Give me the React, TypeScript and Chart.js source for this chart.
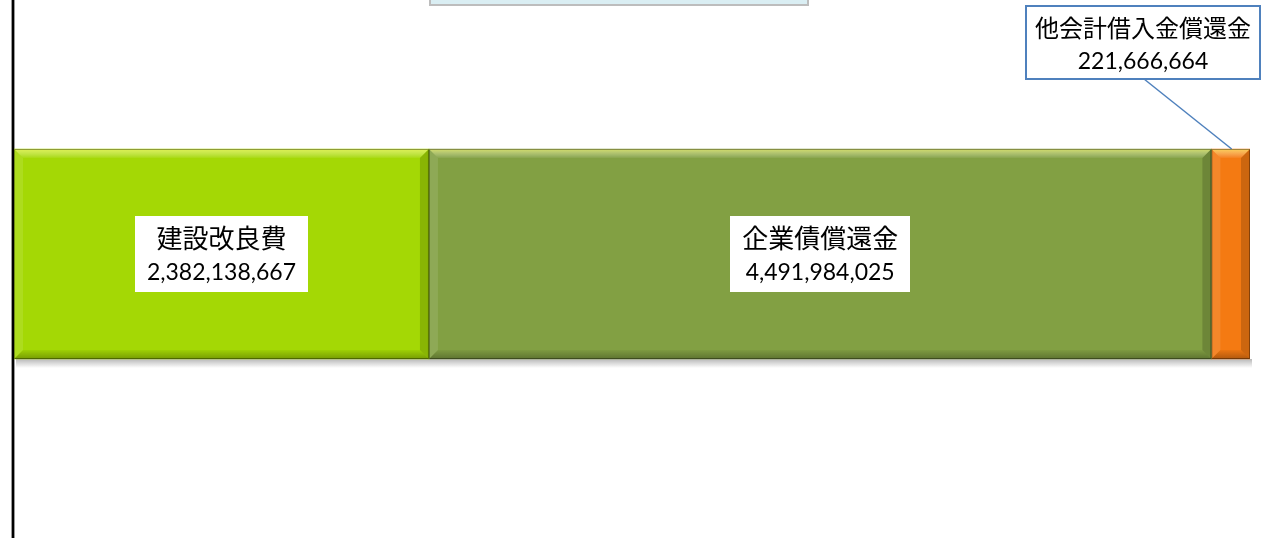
import React, { useEffect, useRef } from 'react';
import { Chart, registerables } from 'chart.js';

Chart.register(...registerables);

const categories = ['支出'];
const seriesNames = ['建設改良費', '企業債償還金', '他会計借入金償還金'];
const seriesValues = [2382138667, 4491984025, 221666664];
const seriesColors = ['#A4D805', '#82A043', '#F47A12'];
const seriesBorders = ['#7F9E0E', '#5E7A2E', '#9A4A0A'];

const JP_FONT = "'Noto Sans CJK JP', sans-serif";
const NUM_FONT = "Lato, 'Noto Sans CJK JP', sans-serif";

const fmt = (v: number) => v.toLocaleString('en-US');

const decorPlugin = {
  id: 'decor',
  beforeDraw(chart: any) {
    const ctx = chart.ctx;
    ctx.save();
    ctx.fillStyle = '#ffffff';
    ctx.fillRect(0, 0, chart.width, chart.height);
    // clipped title box at top
    ctx.fillStyle = '#DAEEF3';
    ctx.fillRect(430, -20, 378, 25);
    ctx.strokeStyle = '#BDBDBD';
    ctx.lineWidth = 2;
    ctx.strokeRect(430, -20, 378, 25);
    // vertical axis line
    ctx.fillStyle = '#9a9a9a';
    ctx.fillRect(11, 0, 4, chart.height);
    ctx.fillStyle = '#000000';
    ctx.fillRect(12, 0, 2, chart.height);
    ctx.restore();
  },
  beforeDatasetsDraw(chart: any) {
    const ctx = chart.ctx;
    const metas = chart.getSortedVisibleDatasetMetas();
    if (!metas.length) return;
    const first = metas[0].data[0];
    const last = metas[metas.length - 1].data[0];
    const bottom = first.y + first.height / 2;
    const left = first.base;
    const right = last.x;
    ctx.save();
    const g = ctx.createLinearGradient(0, bottom, 0, bottom + 9);
    g.addColorStop(0, 'rgba(0,0,0,0.28)');
    g.addColorStop(1, 'rgba(0,0,0,0)');
    ctx.fillStyle = g;
    ctx.fillRect(left + 2, bottom, right - left, 9);
    ctx.restore();
  },
  afterDatasetsDraw(chart: any) {
    const ctx = chart.ctx;
    const metas = chart.getSortedVisibleDatasetMetas();
    metas.forEach((meta: any) => {
      const el = meta.data[0];
      const x0 = Math.min(el.base, el.x);
      const x1 = Math.max(el.base, el.x);
      const y0 = el.y - el.height / 2;
      const y1 = el.y + el.height / 2;
      const b = 9;
      ctx.save();
      // top bevel
      let g = ctx.createLinearGradient(0, y0, 0, y0 + b);
      g.addColorStop(0, 'rgba(255,255,120,0.65)');
      g.addColorStop(1, 'rgba(255,255,255,0.05)');
      ctx.fillStyle = g;
      ctx.beginPath();
      ctx.moveTo(x0, y0); ctx.lineTo(x1, y0); ctx.lineTo(x1 - b, y0 + b); ctx.lineTo(x0 + b, y0 + b); ctx.closePath();
      ctx.fill();
      // bottom bevel
      g = ctx.createLinearGradient(0, y1 - b, 0, y1);
      g.addColorStop(0, 'rgba(0,0,0,0.04)');
      g.addColorStop(1, 'rgba(0,0,0,0.28)');
      ctx.fillStyle = g;
      ctx.beginPath();
      ctx.moveTo(x0, y1); ctx.lineTo(x1, y1); ctx.lineTo(x1 - b, y1 - b); ctx.lineTo(x0 + b, y1 - b); ctx.closePath();
      ctx.fill();
      // left bevel
      ctx.fillStyle = 'rgba(255,255,255,0.10)';
      ctx.beginPath();
      ctx.moveTo(x0, y0); ctx.lineTo(x0 + b, y0 + b); ctx.lineTo(x0 + b, y1 - b); ctx.lineTo(x0, y1); ctx.closePath();
      ctx.fill();
      // right bevel
      ctx.fillStyle = 'rgba(0,0,0,0.16)';
      ctx.beginPath();
      ctx.moveTo(x1, y0); ctx.lineTo(x1 - b, y0 + b); ctx.lineTo(x1 - b, y1 - b); ctx.lineTo(x1, y1); ctx.closePath();
      ctx.fill();
      ctx.strokeStyle = 'rgba(0,0,0,0.35)';
      ctx.lineWidth = 1;
      ctx.strokeRect(x0 + 0.5, y0 + 0.5, x1 - x0 - 1, y1 - y0 - 1);
      ctx.restore();
    });

    // labels
    ctx.save();
    ctx.textAlign = 'center';
    ctx.textBaseline = 'middle';
    metas.forEach((meta: any, i: number) => {
      const el = meta.data[0];
      const name = seriesNames[meta.index];
      const val = fmt(seriesValues[meta.index]);
      const cx = (el.x + el.base) / 2;
      const cy = el.y;
      if (i < metas.length - 1) {
        ctx.font = `26px ${JP_FONT}`;
        const w1 = ctx.measureText(name).width;
        ctx.font = `23px ${NUM_FONT}`;
        const w2 = ctx.measureText(val).width;
        const w = Math.max(w1, w2) + 24;
        const h = 76;
        ctx.fillStyle = '#ffffff';
        ctx.fillRect(Math.round(cx - w / 2), cy - 38, Math.round(w), h);
        ctx.fillStyle = '#000000';
        ctx.font = `26px ${JP_FONT}`;
        ctx.fillText(name, cx, cy - 16);
        ctx.font = `23px ${NUM_FONT}`;
        ctx.fillText(val, cx, cy + 19);
      } else {
        // callout
        ctx.font = `24px ${JP_FONT}`;
        const w1 = ctx.measureText(name).width;
        ctx.font = `23px ${NUM_FONT}`;
        const w2 = ctx.measureText(val).width;
        const w = Math.max(w1, w2) + 18;
        const right = chart.width - 4;
        const bx = right - w;
        const by = 6;
        const bh = 73;
        const bcx = bx + w / 2;
        ctx.strokeStyle = '#4F81BD';
        ctx.lineWidth = 1.5;
        ctx.beginPath();
        ctx.moveTo(bcx + 1, by + bh);
        ctx.lineTo(cx + 1, el.y - el.height / 2);
        ctx.stroke();
        ctx.fillStyle = '#ffffff';
        ctx.fillRect(bx, by, w, bh);
        ctx.lineWidth = 2;
        ctx.strokeRect(bx, by, w, bh);
        ctx.fillStyle = '#000000';
        ctx.font = `24px ${JP_FONT}`;
        ctx.fillText(name, bcx, by + 22);
        ctx.font = `23px ${NUM_FONT}`;
        ctx.fillText(val, bcx, by + 56);
      }
    });
    ctx.restore();
  },
};

export default function App() {
  const ref = useRef<HTMLCanvasElement | null>(null);
  useEffect(() => {
    document.body.style.margin = '0';
    if (!ref.current) return;
    const total = seriesValues.reduce((a, b) => a + b, 0);
    const chart = new Chart(ref.current, {
      type: 'bar',
      data: {
        labels: categories,
        datasets: seriesNames.map((name, i) => ({
          label: name,
          data: [seriesValues[i]],
          backgroundColor: seriesColors[i],
          borderColor: seriesBorders[i],
          borderWidth: 0,
          barThickness: 210,
        })),
      },
      options: {
        indexAxis: 'y',
        animation: false,
        responsive: false,
        maintainAspectRatio: false,
        devicePixelRatio: 1,
        layout: { padding: { left: 14, right: 14, top: 0, bottom: 30 } },
        scales: {
          x: { stacked: true, min: 0, max: total, display: false },
          y: { stacked: true, display: false },
        },
        plugins: { legend: { display: false }, tooltip: { enabled: false } },
      },
      plugins: [decorPlugin],
    });
    return () => chart.destroy();
  }, []);
  return (
    <div style={{ width: 1264, height: 538 }}>
      <canvas ref={ref} width={1264} height={538} style={{ display: 'block' }} />
    </div>
  );
}
